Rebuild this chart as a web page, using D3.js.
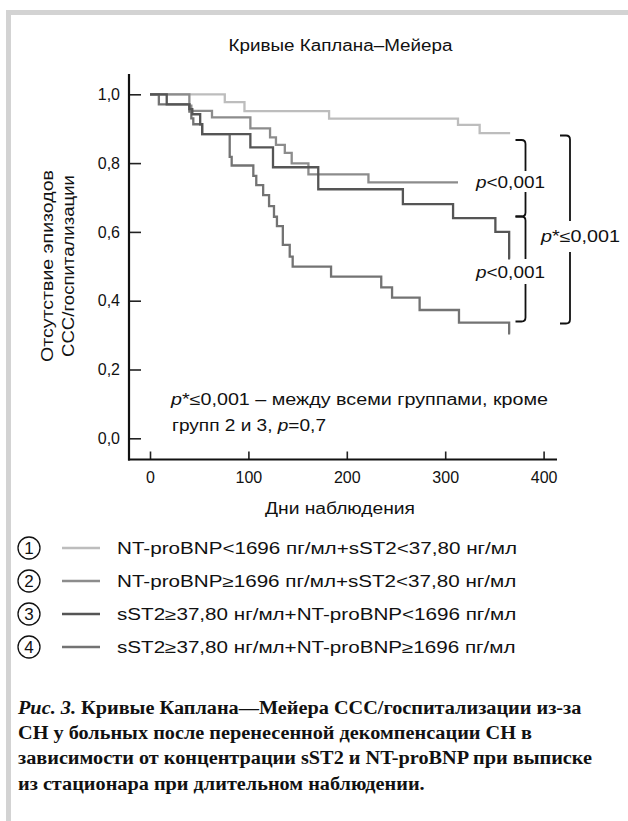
<!DOCTYPE html>
<html><head><meta charset="utf-8">
<script src="https://cdn.jsdelivr.net/npm/d3@7/dist/d3.min.js"></script>
<style>
body{margin:0;background:#fff;}
svg{display:block;}
</style></head><body>
<svg id="c" width="628" height="821"></svg>
<script>
// ---------- data ----------
const groupNumbers = ["1", "2", "3", "4"];
const groupLabels = [
  "NT-proBNP<1696 пг/мл+sST2<37,80 нг/мл",
  "NT-proBNP≥1696 пг/мл+sST2<37,80 нг/мл",
  "sST2≥37,80 нг/мл+NT-proBNP<1696 пг/мл",
  "sST2≥37,80 нг/мл+NT-proBNP≥1696 пг/мл"
];
const days1 = [0, 76, 96, 182, 313, 335];
const surv1 = [1.0, 0.977, 0.951, 0.929, 0.911, 0.887];
const days2 = [0, 40, 42, 63, 102, 122, 128, 137, 144, 161, 222];
const surv2 = [1.0, 0.967, 0.952, 0.933, 0.901, 0.875, 0.853, 0.830, 0.799, 0.767, 0.744];
const days3 = [0, 17, 40, 43, 51, 53, 102, 125, 171, 257, 308, 351, 365];
const surv3 = [1.0, 0.971, 0.957, 0.942, 0.913, 0.884, 0.846, 0.788, 0.724, 0.681, 0.640, 0.600, 0.523];
const days4 = [0, 9, 40, 42, 44, 53, 81, 83, 105, 108, 115, 121, 126, 129, 135, 142, 145, 184, 235, 246, 274, 314, 365];
const surv4 = [1.0, 0.971, 0.950, 0.930, 0.913, 0.884, 0.818, 0.793, 0.763, 0.736, 0.707, 0.675, 0.644, 0.617, 0.562, 0.528, 0.499, 0.470, 0.439, 0.409, 0.373, 0.336, 0.305];
const lastDay = [366, 313, 366, 366];
const yTicks = [0, 0.2, 0.4, 0.6, 0.8, 1.0];
const xTicks = [0, 100, 200, 300, 400];
const pairP = ["p<0,001", "p<0,001"];
const overallP = "p*≤0,001";

// ---------- style ----------
const FONT = "'Liberation Sans', Arial, Helvetica, sans-serif";
const SERIF = "'Liberation Serif', 'Times New Roman', serif";
const colors = ["#bdbdbd", "#8c8c8c", "#555555", "#737373"];

const svg = d3.select("#c");
svg.append("rect").attr("width", 628).attr("height", 821).attr("fill", "#fff");
// frame
svg.append("rect").attr("x", 6).attr("y", 10).attr("width", 622).attr("height", 5).attr("fill", "#d3d3d3");
svg.append("rect").attr("x", 6).attr("y", 10).attr("width", 5).attr("height", 811).attr("fill", "#d3d3d3");

const x = d3.scaleLinear().domain([0, 400]).range([150, 543.6]);
const y = d3.scaleLinear().domain([0, 1]).range([438.3, 94.3]);

function fitTo(sel, w) {
  sel.attr("textLength", w).attr("lengthAdjust", "spacingAndGlyphs");
}

// title
const title = svg.append("text").attr("x", 340.5).attr("y", 51)
  .attr("text-anchor", "middle").attr("font-family", FONT).attr("font-size", 16).attr("fill", "#111")
  .text("Кривые Каплана–Мейера");
fitTo(title, 224);

// axes
const fmt = v => d3.format(".1f")(v).replace(".", ",");
const gy = svg.append("g").attr("transform", "translate(129,0)")
  .call(d3.axisLeft(y).tickValues(yTicks).tickFormat(fmt).tickSizeInner(-12).tickSizeOuter(0).tickPadding(9));
gy.select(".domain").remove();
gy.attr("font-family", FONT).attr("font-size", 16);
gy.selectAll("line").attr("stroke", "#222").attr("stroke-width", 1.6);
gy.selectAll("text").attr("fill", "#111");

const gx = svg.append("g").attr("transform", "translate(0,459.5)")
  .call(d3.axisBottom(x).tickValues(xTicks).tickFormat(d3.format("d")).tickSizeInner(-8).tickSizeOuter(0).tickPadding(12));
gx.select(".domain").remove();
gx.attr("font-family", FONT).attr("font-size", 16);
gx.selectAll("line").attr("stroke", "#222").attr("stroke-width", 1.6);
gx.selectAll("text").attr("fill", "#111");

svg.append("line").attr("x1", 129).attr("x2", 129).attr("y1", 74).attr("y2", 460.5)
  .attr("stroke", "#111").attr("stroke-width", 2.2);
svg.append("line").attr("x1", 128).attr("x2", 557).attr("y1", 459.5).attr("y2", 459.5)
  .attr("stroke", "#111").attr("stroke-width", 2.2);

// axis titles
const xt = svg.append("text").attr("x", 340).attr("y", 514).attr("text-anchor", "middle")
  .attr("font-family", FONT).attr("font-size", 16).attr("fill", "#111").text("Дни наблюдения");
fitTo(xt, 150);
const yt = svg.append("g").attr("transform", "translate(0,266) rotate(-90)");
const yt1 = yt.append("text").attr("x", 0).attr("y", 53).attr("text-anchor", "middle")
  .attr("font-family", FONT).attr("font-size", 16).attr("fill", "#111").text("Отсутствие эпизодов");
fitTo(yt1, 192);
const yt2 = yt.append("text").attr("x", 0).attr("y", 74).attr("text-anchor", "middle")
  .attr("font-family", FONT).attr("font-size", 16).attr("fill", "#111").text("ССС/госпитализации");
fitTo(yt2, 182);

// curves
const series = [
  {days: days1, surv: surv1},
  {days: days2, surv: surv2},
  {days: days3, surv: surv3},
  {days: days4, surv: surv4}
];
const line = d3.line().x(p => x(p[0])).y(p => y(p[1])).curve(d3.curveStepAfter);
const order = [0, 1, 3, 2];
order.forEach(i => {
  const s = series[i];
  const pts = s.days.map((d, k) => [d, s.surv[k]]);
  pts.push([lastDay[i], s.surv[s.surv.length - 1]]);
  svg.append("path").attr("d", line(pts)).attr("fill", "none")
    .attr("stroke", colors[i]).attr("stroke-width", 2.3).attr("stroke-linejoin", "miter");
});

// brackets
function bracket(xv, y0, y1, hook, gapTop, gapBot) {
  const r = 4;
  const p = d3.path();
  p.moveTo(xv - hook, y0);
  p.lineTo(xv - r, y0);
  p.quadraticCurveTo(xv, y0, xv, y0 + r);
  p.lineTo(xv, gapTop);
  p.moveTo(xv, gapBot);
  p.lineTo(xv, y1 - r);
  p.quadraticCurveTo(xv, y1, xv - r, y1);
  p.lineTo(xv - hook, y1);
  svg.append("path").attr("d", p.toString()).attr("fill", "none")
    .attr("stroke", "#111").attr("stroke-width", 1.8);
}
bracket(525.5, 140, 216.5, 10, 171, 192);
bracket(525.5, 216.5, 321.5, 10, 259, 284);
bracket(570, 135.5, 323.5, 10, 221, 252);

function pText(xc, yc, str, w) {
  const t = svg.append("text").attr("x", xc).attr("y", yc).attr("text-anchor", "middle")
    .attr("font-family", FONT).attr("font-size", 16).attr("fill", "#111");
  t.append("tspan").attr("font-style", "italic").text(str[0]);
  t.append("tspan").text(str.slice(1));
  fitTo(t, w);
}
pText(510.5, 188, pairP[0], 69);
pText(510.5, 278, pairP[1], 69);
pText(580.5, 242, overallP, 79);

// note inside plot
const n1 = svg.append("text").attr("x", 171).attr("y", 405).attr("font-family", FONT).attr("font-size", 16).attr("fill", "#111");
n1.append("tspan").attr("font-style", "italic").text("p");
n1.append("tspan").text("*≤0,001 – между всеми группами, кроме");
fitTo(n1, 377);
const n2 = svg.append("text").attr("x", 172).attr("y", 431).attr("font-family", FONT).attr("font-size", 16).attr("fill", "#111");
n2.append("tspan").text("групп 2 и 3, ");
n2.append("tspan").attr("font-style", "italic").text("p");
n2.append("tspan").text("=0,7");
fitTo(n2, 154);

// legend
const legY = [548, 581, 614, 647];
const legTexts = [];
groupNumbers.forEach((g, i) => {
  const cy = legY[i];
  svg.append("circle").attr("cx", 29).attr("cy", cy).attr("r", 11)
    .attr("fill", "#fff").attr("stroke", "#111").attr("stroke-width", 1.3);
  svg.append("text").attr("x", 29).attr("y", cy + 6).attr("text-anchor", "middle")
    .attr("font-family", FONT).attr("font-size", 17).attr("fill", "#111").text(g);
  svg.append("line").attr("x1", 62).attr("x2", 100).attr("y1", cy).attr("y2", cy)
    .attr("stroke", colors[i]).attr("stroke-width", 2.6);
  const t = svg.append("text").attr("x", 117).attr("y", cy + 5.5)
    .attr("font-family", FONT).attr("font-size", 16).attr("fill", "#111").text(groupLabels[i]);
  legTexts.push(t);
});
const legScale = 400 / legTexts[0].node().getComputedTextLength();
legTexts.forEach(t => fitTo(t, t.node().getComputedTextLength() * legScale));

// caption
const capLines = [
  [["Рис. 3.", true], [" Кривые Каплана—Мейера ССС/госпитализации из-за", false]],
  [["СН у больных после перенесенной декомпенсации СН в", false]],
  [["зависимости от концентрации sST2 и NT-proBNP при выписке", false]],
  [["из стационара при длительном наблюдении.", false]]
];
const capY = [714, 739, 764, 790];
const caps = capLines.map((parts, i) => {
  const t = svg.append("text").attr("x", 18).attr("y", capY[i])
    .attr("font-family", SERIF).attr("font-size", 18.5).attr("font-weight", "bold").attr("fill", "#111");
  parts.forEach(([s, it]) => {
    const ts = t.append("tspan").text(s);
    if (it) ts.attr("font-style", "italic");
  });
  return t;
});
const capScale = 574 / caps[2].node().getComputedTextLength();
caps.forEach(t => fitTo(t, t.node().getComputedTextLength() * capScale));
</script>
</body></html>
